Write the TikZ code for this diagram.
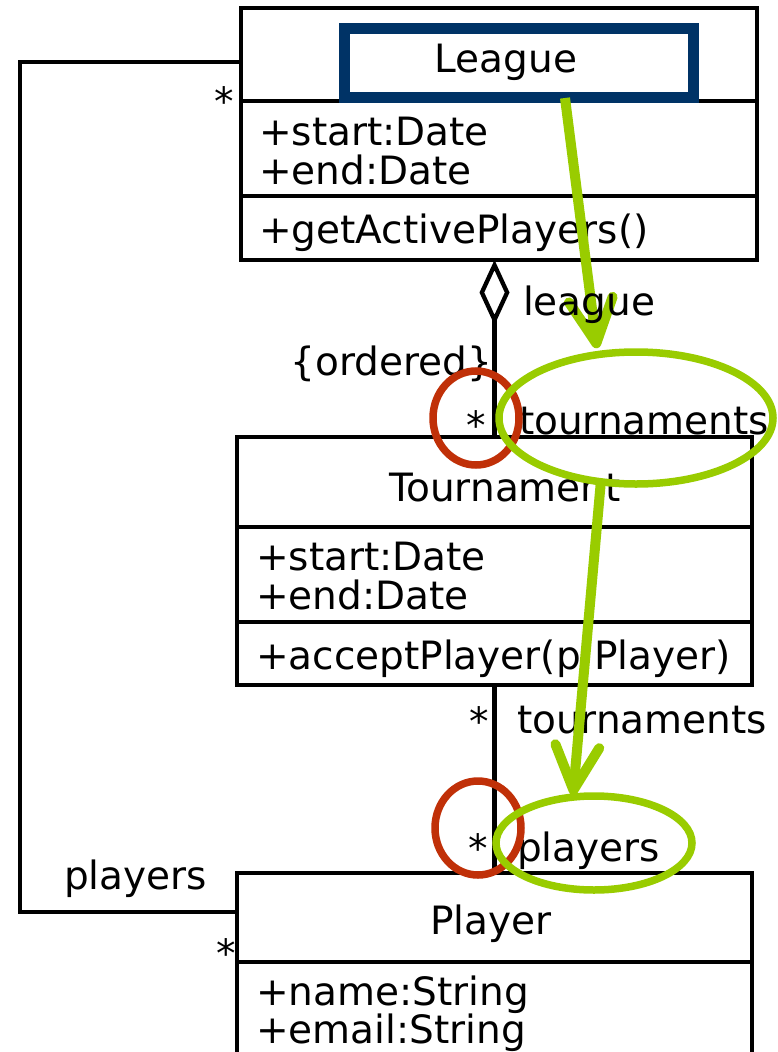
\documentclass[tikz,border=0pt]{standalone}
\usepackage{fontspec}
\setmainfont{DejaVu Sans}
\usetikzlibrary{arrows.meta,calc,shapes.geometric}
\definecolor{navy}{RGB}{0,51,102}
\definecolor{hlgreen}{RGB}{153,204,0}
\definecolor{hlred}{RGB}{192,48,8}
\begin{document}
\begin{tikzpicture}[x=1pt,y=-1pt,
  compart/.style={draw=black, line width=4.3pt, anchor=north west, inner sep=0pt, outer sep=0pt, minimum width=#1},
  txt/.style={inner sep=0pt, outer sep=0pt, font=\fontsize{39pt}{40pt}\selectfont},
  conn/.style={draw=black, line width=4.3pt},
  hlarrow/.style={draw=hlgreen, line width=10pt, -{Straight Barb[length=44pt,width=44pt,line join=round,line cap=round]}},
  redring/.style={draw=hlred, line width=7.5pt},
  greenring/.style={draw=hlgreen, line width=7.5pt}]
\useasboundingbox (0,0) rectangle (778,1052);
\clip (0,0) rectangle (778,1052);

% League class
\node[compart=516pt, minimum height=93pt] (leagueName) at (241,8) {};
\node[compart=516pt, minimum height=95pt] (leagueAttr) at (241,101) {};
\node[compart=516pt, minimum height=64pt] (leagueOps) at (241,196) {};
\draw[navy, line width=11pt] (344,28) rectangle (693,97);
\node[txt, anchor=base] (leagueT) at (506,72) {League};
\node[txt, anchor=base west] (la1) at (259,145) {+start:Date};
\node[txt, anchor=base west] (la2) at (259,184) {+end:Date};
\node[txt, anchor=base west] (lo1) at (259,243) {+getActivePlayers()};

% Tournament class
\node[compart=515pt, minimum height=90pt] (tourName) at (237,437) {};
\node[compart=515pt, minimum height=95pt] (tourAttr) at (237,527) {};
\node[compart=515pt, minimum height=63pt] (tourOps) at (237,622) {};
\node[txt, anchor=base] (tourT) at (505,501) {Tournament};
\node[txt, anchor=base west] (ta1) at (256,570) {+start:Date};
\node[txt, anchor=base west] (ta2) at (256,609) {+end:Date};
\node[txt, anchor=base west] (to1) at (256,669) {+acceptPlayer(p:Player)};

% Player class
\node[compart=515pt, minimum height=89pt] (playerName) at (237,873) {};
\node[compart=515pt, minimum height=150pt] (playerAttr) at (237,962) {};
\node[txt, anchor=base] (playerT) at (491,934) {Player};
\node[txt, anchor=base west] (pa1) at (256,1005) {+name:String};
\node[txt, anchor=base west] (pa2) at (256,1043) {+email:String};

% connectors
\draw[conn, {Diamond[open,length=65pt,width=30pt]}-] (tourName.north |- leagueOps.south) -- (tourName.north);
\draw[conn] (tourOps.south) -- (playerName.north);
\draw[conn] ([yshift=-7.5pt]leagueName.west) -| (20,500) |- ([yshift=5.5pt]playerName.west);

% labels
\node[txt, anchor=base east] (lbOrdered) at (492,375) {\{ordered\}};
\node[txt, anchor=base] (m1) at (476,439) {*};
\node[txt, anchor=base west] (lbTour1) at (519,434) {tournaments};
\node[txt, anchor=base] (m2) at (479,735) {*};
\node[txt, anchor=base west] (lbTour2) at (517,733) {tournaments};
\node[txt, anchor=base] (m3) at (478,862) {*};
\node[txt, anchor=base west] (lbPlayers1) at (517,861) {players};
\node[txt, anchor=base west] (lbPlayers2) at (64,889) {players};
\node[txt, anchor=base] (m4) at (224,115) {*};
\node[txt, anchor=base] (m5) at (226,967) {*};

% highlights
\node[redring, ellipse, minimum width=86pt, minimum height=94pt, inner sep=0pt] (r1) at (476,418) {};
\node[greenring, ellipse, minimum width=274pt, minimum height=132pt, inner sep=0pt] (g1) at (636,418) {};
\node[redring, ellipse, minimum width=86pt, minimum height=94pt, inner sep=0pt] (r2) at (478,828) {};
\node[greenring, ellipse, minimum width=196pt, minimum height=94pt, inner sep=0pt] (g2) at (594,843) {};
\coordinate (a1s) at (565,98);
\coordinate (a2s) at (601,480);
\draw[hlarrow] (a1s) -- (g1.north -| 597,0);
\draw[hlarrow] (a2s) -- (573,795);
\node[txt, anchor=base west] (lbLeague) at (523,315) {league};
\end{tikzpicture}
\end{document}
